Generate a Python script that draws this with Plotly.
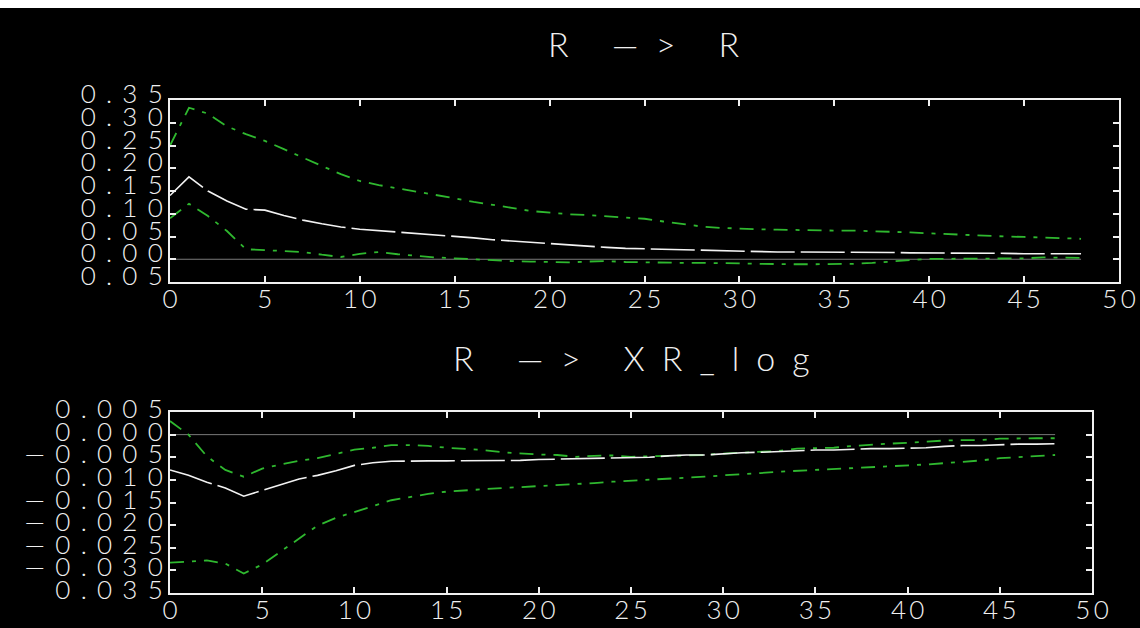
import plotly.graph_objects as go

# Impulse responses over 48 horizons, with upper/lower error bands
horizon = list(range(49))

r_to_r = [0.140, 0.181, 0.150, 0.128, 0.110, 0.108, 0.096, 0.086, 0.078, 0.071,
          0.066, 0.063, 0.060, 0.057, 0.053, 0.050, 0.047, 0.043, 0.040, 0.037,
          0.034, 0.031, 0.029, 0.026, 0.024, 0.023, 0.022, 0.020, 0.019, 0.018,
          0.017, 0.017, 0.016, 0.016, 0.016, 0.015, 0.015, 0.015, 0.015, 0.014,
          0.014, 0.014, 0.013, 0.013, 0.013, 0.012, 0.012, 0.012, 0.012]
r_to_r_upper = [0.250, 0.333, 0.320, 0.292, 0.275, 0.260, 0.242, 0.223, 0.205, 0.187,
                0.172, 0.163, 0.156, 0.149, 0.142, 0.134, 0.126, 0.120, 0.113, 0.106,
                0.102, 0.099, 0.097, 0.094, 0.092, 0.089, 0.083, 0.077, 0.072, 0.069,
                0.067, 0.066, 0.065, 0.064, 0.064, 0.063, 0.063, 0.062, 0.061, 0.059,
                0.057, 0.055, 0.053, 0.052, 0.050, 0.049, 0.048, 0.046, 0.045]
r_to_r_lower = [0.090, 0.122, 0.095, 0.062, 0.022, 0.020, 0.018, 0.016, 0.010, 0.005,
                0.012, 0.016, 0.011, 0.007, 0.004, 0.002, 0.000, -0.003, -0.004, -0.005,
                -0.006, -0.007, -0.005, -0.004, -0.006, -0.007, -0.007, -0.008, -0.008, -0.008,
                -0.009, -0.010, -0.011, -0.011, -0.011, -0.011, -0.010, -0.008, -0.005, -0.001,
                0.001, 0.001, 0.001, 0.001, 0.001, 0.002, 0.004, 0.003, 0.003]

r_to_xr = [-0.0078, -0.0090, -0.0105, -0.0118, -0.0136, -0.0123, -0.0110, -0.0098, -0.0090, -0.0080,
           -0.0068, -0.0062, -0.0059, -0.0058, -0.0058, -0.0058, -0.0058, -0.0058, -0.0058, -0.0057,
           -0.0055, -0.0054, -0.0054, -0.0053, -0.0051, -0.0050, -0.0050, -0.0047, -0.0045, -0.0045,
           -0.0042, -0.0040, -0.0039, -0.0037, -0.0035, -0.0034, -0.0034, -0.0032, -0.0031, -0.0031,
           -0.0030, -0.0029, -0.0026, -0.0024, -0.0024, -0.0022, -0.0021, -0.0021, -0.0020]
r_to_xr_upper = [0.0030, 0.0000, -0.0048, -0.0078, -0.0093, -0.0075, -0.0066, -0.0058, -0.0052, -0.0043,
                 -0.0033, -0.0029, -0.0023, -0.0023, -0.0025, -0.0029, -0.0031, -0.0034, -0.0039, -0.0042,
                 -0.0044, -0.0045, -0.0049, -0.0047, -0.0046, -0.0049, -0.0048, -0.0047, -0.0045, -0.0045,
                 -0.0042, -0.0040, -0.0038, -0.0036, -0.0031, -0.0030, -0.0029, -0.0025, -0.0022, -0.0020,
                 -0.0018, -0.0015, -0.0013, -0.0012, -0.0012, -0.0009, -0.0008, -0.0008, -0.0008]
r_to_xr_lower = [-0.0283, -0.0281, -0.0278, -0.0285, -0.0307, -0.0287, -0.0258, -0.0228, -0.0201, -0.0184,
                 -0.0171, -0.0157, -0.0145, -0.0138, -0.0131, -0.0126, -0.0123, -0.0121, -0.0118, -0.0116,
                 -0.0114, -0.0112, -0.0110, -0.0107, -0.0104, -0.0102, -0.0100, -0.0098, -0.0095, -0.0093,
                 -0.0090, -0.0088, -0.0085, -0.0082, -0.0080, -0.0078, -0.0077, -0.0075, -0.0073, -0.0071,
                 -0.0069, -0.0066, -0.0063, -0.0060, -0.0057, -0.0052, -0.0050, -0.0047, -0.0045]
zero_line = [0.0] * 49

# Axis ticks and their labels
x_ticks = [0, 5, 10, 15, 20, 25, 30, 35, 40, 45, 50]
x_labels = ["0", "5", "10", "15", "20", "25", "30", "35", "40", "45", "50"]
top_y_ticks = [-0.05, 0.00, 0.05, 0.10, 0.15, 0.20, 0.25, 0.30, 0.35]
top_y_labels = ["0.05", "0.00", "0.05", "0.10", "0.15", "0.20", "0.25", "0.30", "0.35"]
bot_y_ticks = [-0.035, -0.030, -0.025, -0.020, -0.015, -0.010, -0.005, 0.000, 0.005]
bot_y_labels = ["0.035", "—0.030", "—0.025", "—0.020", "—0.015", "0.010", "—0.005", "0.000", "0.005"]

titles = ["R —> R", "R —> XR_log"]

W, H = 1140, 628
FONT = "Lato"
FG = "#f0f0f0"
GREEN = "#2fb82f"


def spaced(s, gap):
    """Spread the characters of a label apart with fixed-width spaces."""
    return gap.join(s)


def px_x(p):
    return p / W


def px_y(p):
    return 1 - p / H


fig = go.Figure()

panels = [
    dict(xa="x", ya="y", mid=r_to_r, up=r_to_r_upper, lo=r_to_r_lower),
    dict(xa="x2", ya="y2", mid=r_to_xr, up=r_to_xr_upper, lo=r_to_xr_lower),
]

for p in panels:
    fig.add_trace(go.Scatter(x=horizon, y=zero_line, mode="lines", xaxis=p["xa"], yaxis=p["ya"],
                             line=dict(color="#7a7a7a", width=1), hoverinfo="skip", showlegend=False))
    for band in (p["up"], p["lo"]):
        fig.add_trace(go.Scatter(x=horizon, y=band, mode="lines", xaxis=p["xa"], yaxis=p["ya"],
                                 line=dict(color=GREEN, width=1.8, dash="14px,8px,4px,8px"),
                                 showlegend=False))
    fig.add_trace(go.Scatter(x=horizon, y=p["mid"], mode="lines", xaxis=p["xa"], yaxis=p["ya"],
                             line=dict(color="#f2f2f2", width=1.6, dash="44px,6px"),
                             showlegend=False))

tick_font = dict(family=FONT, size=26, color=FG, weight=300)
GAP = "\u2004\u200a"
THIN = "\u2009"

common_x = dict(range=[0, 50], tickmode="array", tickvals=x_ticks,
                ticktext=[spaced(t, THIN) for t in x_labels],
                showline=True, linecolor=FG, linewidth=2, mirror="allticks",
                ticks="inside", ticklen=6, tickwidth=1.5, tickcolor=FG,
                showgrid=False, zeroline=False, tickfont=tick_font, automargin=False,
                ticklabelstandoff=-7, fixedrange=True)
common_y = dict(tickmode="array", showline=True, linecolor=FG, linewidth=2, mirror="allticks",
                ticks="inside", ticklen=6, tickwidth=1.5, tickcolor=FG,
                showgrid=False, zeroline=False, tickfont=tick_font, automargin=False,
                fixedrange=True)

fig.update_layout(
    width=W, height=H,
    margin=dict(l=0, r=0, t=0, b=0),
    paper_bgcolor="black", plot_bgcolor="black",
    showlegend=False,
    template="none",
    xaxis=dict(common_x, domain=[px_x(170), px_x(1119)], anchor="y"),
    yaxis=dict(common_y, domain=[px_y(282), px_y(100)], anchor="x", range=[-0.05, 0.35],
               tickvals=top_y_ticks, ticktext=[spaced(t, GAP) for t in top_y_labels],
               ticklabelshift=-6),
    xaxis2=dict(common_x, domain=[px_x(170), px_x(1092)], anchor="y2"),
    yaxis2=dict(common_y, domain=[px_y(593), px_y(412)], anchor="x2", range=[-0.035, 0.005],
                tickvals=bot_y_ticks, ticktext=[spaced(t, GAP) for t in bot_y_labels],
                ticklabelshift=-3),
    shapes=[dict(type="rect", xref="paper", yref="paper", x0=0, x1=1, y0=px_y(8), y1=1,
                 fillcolor="white", line=dict(width=0), layer="above")],
    annotations=[
        dict(text=spaced(titles[0], "\u2002"), xref="paper", yref="paper", x=px_x(644), y=px_y(43),
             xanchor="center", yanchor="middle", showarrow=False,
             font=dict(family=FONT, size=34, color=FG, weight=300)),
        dict(text=spaced(titles[1], "\u2002"), xref="paper", yref="paper", x=px_x(631), y=px_y(357),
             xanchor="center", yanchor="middle", showarrow=False,
             font=dict(family=FONT, size=34, color=FG, weight=300)),
    ],
)

fig.write_html("out.html")
